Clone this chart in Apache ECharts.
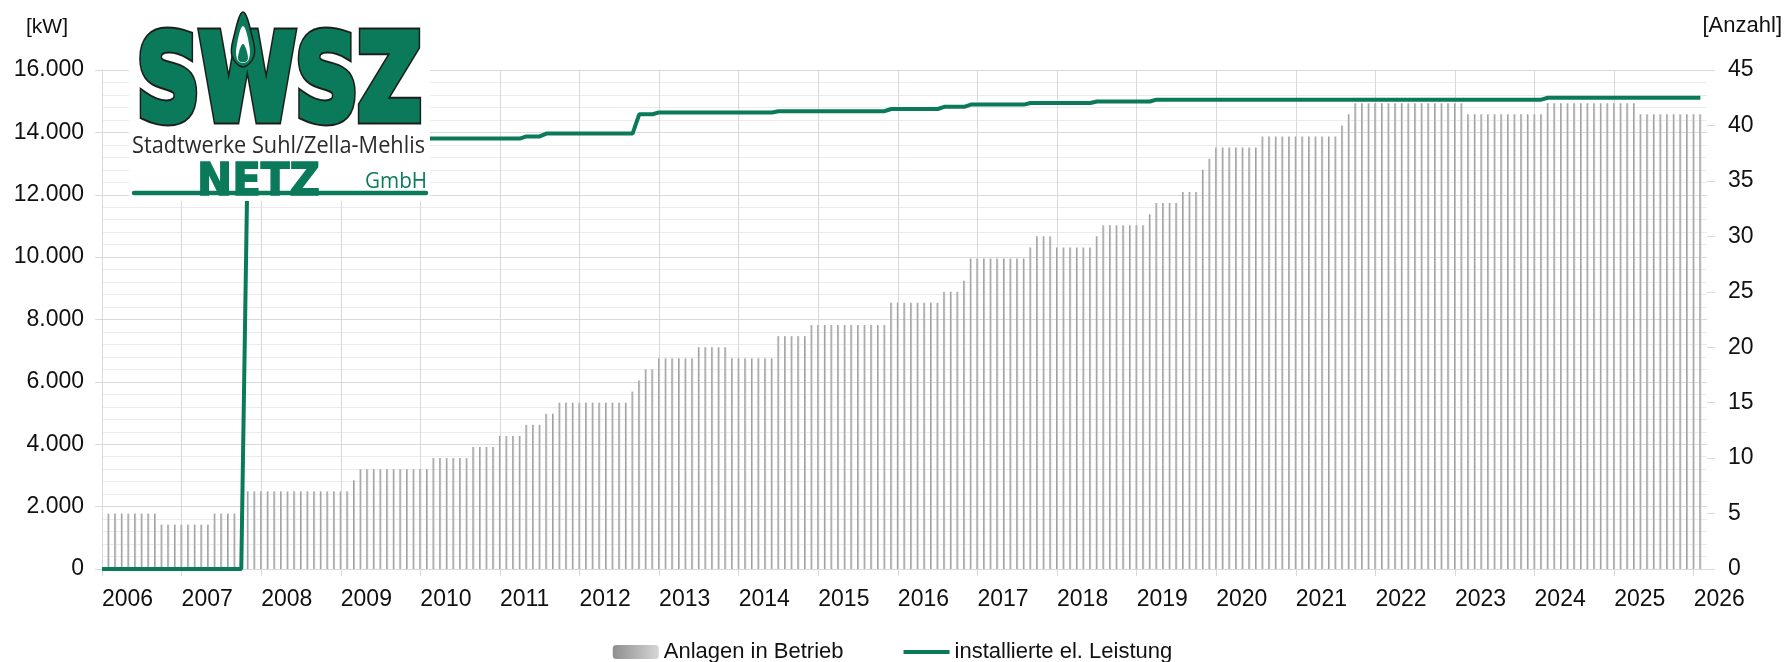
<!DOCTYPE html>
<html><head><meta charset="utf-8">
<script src="https://cdn.jsdelivr.net/npm/echarts@6/dist/echarts.min.js"></script>
<style>html,body{margin:0;padding:0;background:#fff}#c{width:1785px;height:662px}</style>
</head><body><div id="c"></div>
<script>
// ---- data (monthly, first value = Jan 2006, last = Feb 2026) ----
const startYear = 2006;
const startMonth = 1;
const yearTicks = [2006,2007,2008,2009,2010,2011,2012,2013,2014,2015,2016,2017,2018,2019,2020,2021,2022,2023,2024,2025,2026];
const legendNames = ['Anlagen in Betrieb', 'installierte el. Leistung'];

// Anlagen in Betrieb [Anzahl]
const anlagen = [
  null,5,5,5,5,5,5,5,5,4,4,4,            // 2006
  4,4,4,4,4,5,5,5,5,5,7,7,               // 2007
  7,7,7,7,7,7,7,7,7,7,7,7,               // 2008
  7,7,8,9,9,9,9,9,9,9,9,9,               // 2009
  9,9,10,10,10,10,10,10,11,11,11,11,     // 2010
  12,12,12,12,13,13,13,14,14,15,15,15,   // 2011
  15,15,15,15,15,15,15,15,16,17,18,18,   // 2012
  19,19,19,19,19,19,20,20,20,20,20,19,   // 2013
  19,19,19,19,19,19,21,21,21,21,21,22,   // 2014
  22,22,22,22,22,22,22,22,22,22,22,24,   // 2015
  24,24,24,24,24,24,24,25,25,25,26,28,   // 2016
  28,28,28,28,28,28,28,28,29,30,30,30,   // 2017
  29,29,29,29,29,29,30,31,31,31,31,31,   // 2018
  31,31,32,33,33,33,33,34,34,34,36,37,   // 2019
  38,38,38,38,38,38,38,39,39,39,39,39,   // 2020
  39,39,39,39,39,39,39,40,41,42,42,42,   // 2021
  42,42,42,42,42,42,42,42,42,42,42,42,   // 2022
  42,42,41,41,41,41,41,41,41,41,41,41,   // 2023
  41,41,42,42,42,42,42,42,42,42,42,42,   // 2024
  42,42,42,42,41,41,41,41,41,41,41,41,   // 2025
  41,41                                  // 2026
];

// installierte el. Leistung [kW]
const leistung = [
  0,0,0,0,0,0,0,0,0,0,0,0,                                                   // 2006
  0,0,0,0,0,0,0,0,0,0,13800,13800,                                           // 2007
  13800,13800,13800,13800,13800,13800,13800,13800,13800,13800,13800,13800,   // 2008
  13800,13800,13800,13800,13800,13800,13800,13800,13800,13800,13800,13800,   // 2009
  13800,13800,13800,13800,13800,13800,13800,13800,13800,13800,13800,13800,   // 2010
  13800,13800,13800,13800,13870,13870,13870,13960,13960,13960,13960,13960,   // 2011
  13960,13960,13960,13960,13960,13960,13960,13960,13960,14580,14580,14580,   // 2012
  14640,14640,14640,14640,14640,14640,14640,14640,14640,14640,14640,14640,   // 2013
  14640,14640,14640,14640,14640,14640,14680,14680,14680,14680,14680,14680,   // 2014
  14680,14680,14680,14680,14680,14680,14680,14680,14680,14680,14680,14750,   // 2015
  14750,14750,14750,14750,14750,14750,14750,14820,14820,14820,14820,14890,   // 2016
  14890,14890,14890,14890,14890,14890,14890,14890,14940,14940,14940,14940,   // 2017
  14940,14940,14940,14940,14940,14940,14990,14990,14990,14990,14990,14990,   // 2018
  14990,14990,14990,15050,15050,15050,15050,15050,15050,15050,15050,15050,   // 2019
  15050,15050,15050,15050,15050,15050,15050,15050,15050,15050,15050,15050,   // 2020
  15050,15050,15050,15050,15050,15050,15050,15050,15050,15050,15050,15050,   // 2021
  15050,15050,15050,15050,15050,15050,15050,15050,15050,15050,15050,15050,   // 2022
  15050,15050,15050,15050,15050,15050,15050,15050,15050,15050,15050,15050,   // 2023
  15050,15050,15110,15110,15110,15110,15110,15110,15110,15110,15110,15110,   // 2024
  15110,15110,15110,15110,15110,15110,15110,15110,15110,15110,15110,15110,   // 2025
  15110,15110                                                                // 2026
];

// ---- chart ----
const GREEN = '#0b7a5b';
const GRID = '#d9d9d9';
const TXT = '#111';
const FONT = '"Liberation Sans", Arial, sans-serif';

const monthPos = i => startYear + (startMonth - 1 + i) / 12;  // month date as decimal year
const barData = anlagen.map((v, i) => [monthPos(i), v]);
const lineData = leistung.map((v, i) => [monthPos(i), v]);
const xMax = monthPos(anlagen.length);
const fmt = v => String(v).replace(/\B(?=(\d{3})+(?!\d))/g, '.');
const yearFmt = v => Math.abs(v - Math.round(v)) < 1e-6 ? String(Math.round(v)) : '';

const mctx = document.createElement('canvas').getContext('2d');
function fit(text, font, target) { mctx.font = font; return target / mctx.measureText(text).width; }

const fSWSZ = 'bold 117px "DejaVu Sans"';
const fSub = '23px "Open Sans"';
const fNetz = 'bold 44px "DejaVu Sans"';
const fGmbH = '21px "Open Sans"';
const sSWSZ = fit('SWSZ', fSWSZ, 284);

const chart = echarts.init(document.getElementById('c'), null, {renderer: 'canvas'});
chart.setOption({
  animation: false,
  textStyle: {fontFamily: FONT},
  grid: {left: 102, right: 78, top: 70, bottom: 93, containLabel: false},
  legend: {
    data: [
      {name: legendNames[0]},
      {name: legendNames[1], lineStyle: {width: 4, color: GREEN},
       itemStyle: {color: 'rgba(0,0,0,0)', borderColor: 'rgba(0,0,0,0)', borderWidth: 0}}
    ],
    left: 'center', top: 636,
    itemWidth: 46, itemHeight: 14, itemGap: 58,
    textStyle: {fontSize: 22, color: TXT, fontFamily: FONT}
  },
  xAxis: {
    type: 'value', min: startYear, max: xMax, interval: 1,
    axisLine: {show: true, lineStyle: {color: GRID, width: 1}},
    axisTick: {show: true, length: 7, lineStyle: {color: GRID}, customValues: yearTicks},
    axisLabel: {fontSize: 23, color: TXT, align: 'left', margin: 19,
                customValues: yearTicks, formatter: yearFmt},
    splitLine: {show: true, showMaxLine: false, lineStyle: {color: GRID, width: 1}}
  },
  yAxis: [
    {
      type: 'value', min: 0, max: 16000, interval: 2000, position: 'left',
      axisLine: {show: true, lineStyle: {color: GRID}},
      axisTick: {show: true, length: 7, lineStyle: {color: GRID}},
      axisLabel: {fontSize: 23, color: TXT, margin: 18, formatter: fmt},
      splitLine: {show: true, lineStyle: {color: GRID, width: 1}},
      minorTick: {show: false, splitNumber: 5},
      minorSplitLine: {show: true, lineStyle: {color: '#ebebeb', width: 1}}
    },
    {
      type: 'value', min: 0, max: 45, interval: 5, position: 'right',
      axisLine: {show: false},
      axisTick: {show: true, length: 8, lineStyle: {color: GRID}},
      axisLabel: {fontSize: 23, color: TXT, margin: 21},
      splitLine: {show: false}
    }
  ],
  series: [
    {
      name: legendNames[0], type: 'bar', yAxisIndex: 1, barWidth: 2, z: 2,
      itemStyle: {color: new echarts.graphic.LinearGradient(0, 0, 1, 0, [
        {offset: 0, color: '#8e8e8e'}, {offset: 1, color: '#d6d6d6'}])},
      data: barData
    },
    {
      name: legendNames[1], type: 'line', yAxisIndex: 0, symbol: 'none', z: 3,
      lineStyle: {color: GREEN, width: 4}, itemStyle: {color: GREEN},
      data: lineData
    }
  ],
  graphic: [
    {type: 'text', x: 68, y: 27, z: 100, style: {text: '[kW]', font: '21px ' + FONT, fill: TXT, textAlign: 'right', textVerticalAlign: 'middle'}},
    {type: 'text', x: 1782, y: 26, z: 100, style: {text: '[Anzahl]', font: '22px ' + FONT, fill: TXT, textAlign: 'right', textVerticalAlign: 'middle'}},
    // logo
    {type: 'rect', z: 100, shape: {x: 129, y: 0, width: 301, height: 201}, style: {fill: '#fff'}},
    {type: 'text', z: 101, x: 137, y: 89, scaleX: sSWSZ,
      style: {text: 'SWSZ', font: fSWSZ, fill: '#1d1d1b', stroke: '#1d1d1b', lineWidth: 11, lineJoin: 'round', textAlign: 'left', textVerticalAlign: 'middle'}},
    {type: 'text', z: 102, x: 137, y: 89, scaleX: sSWSZ,
      style: {text: 'SWSZ', font: fSWSZ, fill: GREEN, stroke: GREEN, lineWidth: 7, lineJoin: 'round', textAlign: 'left', textVerticalAlign: 'middle'}},
    {type: 'polygon', z: 103, shape: {smooth: 0.4, points: [[243,12],[252,36],[254,56],[243,67],[232,56],[234,36]]},
      style: {fill: GREEN, stroke: '#1d1d1b', lineWidth: 1.5}},
    {type: 'polygon', z: 104, shape: {smooth: 0.4, points: [[243,26],[249,44],[249,59],[243,63],[237,59],[237,44]]},
      style: {fill: '#fff'}},
    {type: 'polygon', z: 105, shape: {smooth: 0.4, points: [[243,44],[247,52],[247,61],[239,61],[239,52]]},
      style: {fill: GREEN}},
    {type: 'text', z: 101, x: 132, y: 146, scaleX: fit('Stadtwerke Suhl/Zella-Mehlis', fSub, 293),
      style: {text: 'Stadtwerke Suhl/Zella-Mehlis', font: fSub, fill: '#2b2b2b', textAlign: 'left', textVerticalAlign: 'middle'}},
    {type: 'line', z: 101, shape: {x1: 134, y1: 193, x2: 426, y2: 193}, style: {stroke: GREEN, lineWidth: 4.5, lineCap: 'round'}},
    {type: 'text', z: 101, x: 197, y: 184, scaleX: fit('NETZ', fNetz, 123),
      style: {text: 'NETZ', font: fNetz, fill: GREEN, stroke: GREEN, lineWidth: 1.5, textAlign: 'left', textVerticalAlign: 'middle'}},
    {type: 'text', z: 101, x: 365, y: 182, scaleX: fit('GmbH', fGmbH, 62),
      style: {text: 'GmbH', font: fGmbH, fill: GREEN, textAlign: 'left', textVerticalAlign: 'middle'}}
  ]
});
</script></body></html>
